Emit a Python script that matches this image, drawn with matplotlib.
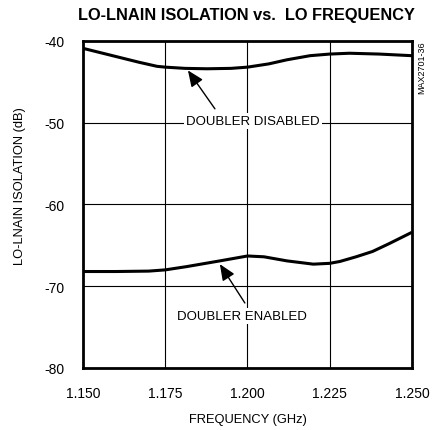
import numpy as np
import matplotlib.pyplot as plt

plt.rcParams['font.family'] = ['Liberation Sans', 'DejaVu Sans']

# LO frequency (GHz) and LO-LNAIN isolation (dB)
freq_disabled = [1.150, 1.155, 1.161, 1.167, 1.1725, 1.175, 1.181, 1.1877,
                 1.195, 1.200, 1.2065, 1.212, 1.219, 1.225, 1.231, 1.240, 1.250]
iso_disabled = [-40.9, -41.4, -42.0, -42.6, -43.1, -43.2, -43.35, -43.4,
                -43.35, -43.2, -42.8, -42.3, -41.8, -41.6, -41.5, -41.6, -41.8]

freq_enabled = [1.150, 1.160, 1.170, 1.175, 1.1815, 1.1916, 1.200, 1.205,
                1.212, 1.220, 1.225, 1.2281, 1.233, 1.238, 1.243, 1.250]
iso_enabled = [-68.2, -68.2, -68.15, -68.0, -67.6, -66.9, -66.3, -66.4,
               -66.9, -67.3, -67.2, -66.97, -66.4, -65.75, -64.8, -63.4]

x_ticks = [1.150, 1.175, 1.200, 1.225, 1.250]
x_labels = ['1.150', '1.175', '1.200', '1.225', '1.250']
y_ticks = [-80, -70, -60, -50, -40]
y_labels = ['-80', '-70', '-60', '-50', '-40']

fig = plt.figure(figsize=(4.35, 4.31), dpi=100)
ax = fig.add_axes([0.1908, 0.1439, 0.7563, 0.7587])

ax.plot(freq_disabled, iso_disabled, color='black', lw=2.2, solid_capstyle='butt')
ax.plot(freq_enabled, iso_enabled, color='black', lw=2.2, solid_capstyle='butt')

ax.set_xlim(1.150, 1.250)
ax.set_ylim(-80, -40)
ax.set_xticks(x_ticks)
ax.set_xticklabels(x_labels)
ax.set_yticks(y_ticks)
ax.set_yticklabels(y_labels)
ax.tick_params(length=0, pad=13, labelsize=10)
ax.grid(True, color='black', lw=0.8)
ax.set_axisbelow(True)
for s in ax.spines.values():
    s.set_linewidth(2.0)

ax.set_xlabel('FREQUENCY (GHz)', fontsize=9.3, va='center')
ax.xaxis.set_label_coords(0.5, -0.156)
ax.set_ylabel('LO-LNAIN ISOLATION (dB)', fontsize=9.3, va='center')
ax.yaxis.set_label_coords(-0.191, 0.56)

fig.text(0.566, 0.965, 'LO-LNAIN ISOLATION vs.  LO FREQUENCY',
         fontsize=11.8, fontweight='bold', ha='center', va='center')

# curve labels with arrows
arrow = dict(arrowstyle='-|>,head_length=0.7,head_width=0.3', color='black',
             lw=1.0, mutation_scale=14, shrinkA=0, shrinkB=0)
ax.annotate('', xy=(1.1819, -43.6), xytext=(1.1901, -48.3), arrowprops=arrow)
ax.annotate('', xy=(1.1916, -67.3), xytext=(1.1992, -72.05), arrowprops=arrow)
box = dict(facecolor='white', edgecolor='none', pad=1.5)
ax.text(1.2017, -49.8, 'DOUBLER DISABLED', fontsize=9.5, ha='center', va='center', bbox=box)
ax.text(1.1983, -73.6, 'DOUBLER ENABLED', fontsize=9.5, ha='center', va='center', bbox=box)

fig.text(422 / 435, 1 - 41 / 431, 'MAX2701-36', fontsize=6.5, rotation=90,
         ha='center', va='top')

fig.savefig('out.png', dpi=100)
